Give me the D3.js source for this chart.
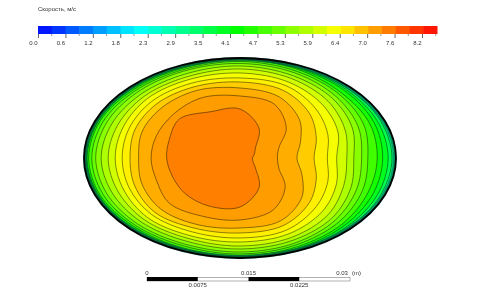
<!DOCTYPE html>
<head>
  <meta charset="utf-8">
  <script src="https://cdn.jsdelivr.net/npm/d3@7"></script>
  <style>
    html, body { margin: 0; background: #fff; }
    svg { display: block; }
    text { font-family: "Liberation Sans", Arial, sans-serif; font-size: 6px; fill: #333; }
    .axis path { display: none; }
    .axis line { stroke: #222; stroke-width: 0.7; }
  </style>
</head>
<body>
<script>

var title = "Скорость, м/с"
var tickLabels = ["0.0","0.6","1.2","1.8","2.3","2.9","3.5","4.1","4.7","5.3","5.9","6.4","7.0","7.6","8.2"]
var maxSpeed = 8.5
var barBands = 29

// section size in metres, read against the scale bar
var semiX = 0.02305
var semiY = 0.01478
var centreX = 0.01374

// angle of each contour point, degrees, going round the section
var angles = [0,22.5,45,67.5,90,112.5,135,157.5,180,202.5,225,247.5,270,292.5,315,337.5]

// speed inside each contour
var levels = [7.44,7.2,7.05,6.8,6.5,6.3,6.0,5.7,5.4,5.1,4.8,4.4,4.0,3.6]
var wallSpeed = 3.2

// each contour as a fraction of the wall distance at each angle
var c1 = [.08,.10,.14,.32,.49,.50,.55,.49,.47,.47,.50,.52,.49,.32,.14,.09]
var c2 = [.24,.27,.42,.58,.62,.65,.61,.58,.57,.58,.64,.63,.62,.56,.41,.27]
var c3 = [.365,.42,.54,.66,.70,.73,.71,.68,.65,.68,.72,.72,.70,.68,.56,.43]
var c4 = [.475,.53,.63,.73,.76,.77,.76,.73,.705,.73,.77,.76,.75,.73,.63,.53]
var c5 = [.56,.61,.69,.78,.80,.81,.80,.77,.755,.77,.80,.80,.80,.78,.69,.61]
var c6 = [.62,.68,.75,.82,.85,.85,.84,.81,.80,.81,.84,.84,.84,.82,.75,.67]
var c7 = [.685,.73,.80,.86,.89,.88,.87,.85,.845,.85,.87,.87,.88,.86,.80,.72]
var c8 = [.73,.78,.84,.89,.92,.91,.90,.89,.89,.89,.90,.90,.91,.89,.84,.77]
var c9 = [.78,.82,.87,.92,.945,.94,.93,.925,.925,.925,.93,.93,.94,.92,.87,.81]
var c10 = [.82,.86,.90,.94,.965,.955,.95,.95,.95,.95,.95,.95,.96,.94,.90,.85]
var c11 = [.88,.90,.92,.96,.98,.97,.965,.97,.97,.97,.965,.97,.975,.96,.93,.89]
var c12 = [.915,.93,.95,.97,.985,.98,.98,.98,.98,.98,.98,.98,.985,.975,.95,.925]
var c13 = [.95,.955,.965,.98,.99,.99,.987,.987,.987,.987,.988,.988,.99,.985,.97,.955]
var c14 = [.975,.975,.98,.99,.993,.993,.993,.993,.993,.993,.993,.993,.995,.99,.985,.975]
var contours = [c1,c2,c3,c4,c5,c6,c7,c8,c9,c10,c11,c12,c13,c14]

var scaleTop = ["0","0.015","0.03"]
var scaleTopValues = [0,0.015,0.03]
var scaleBottom = ["0.0075","0.0225"]
var scaleBottomValues = [0.0075,0.0225]
var scaleBlocks = [[0,0.0075],[0.015,0.0225]]

var width = 481
var height = 291
var svg = d3.select("body").append("svg")
            .attr("width", width)
            .attr("height", height)

// the reference is a soft, low resolution scan
svg.append("filter").attr("id", "soft")
   .append("feGaussianBlur").attr("stdDeviation", 0.35)
var root = svg.append("g").attr("filter", "url(#soft)")

root.append("rect").attr("width", width).attr("height", height).attr("fill", "#fff")
root.append("text").attr("x", 38).attr("y", 10.5).text(title)

// rainbow colour map, same as the colour bar
var color = d3.scaleLinear()
              .domain([0, 0.25, 0.5, 0.75, 1].map(function(d) { return d * maxSpeed }))
              .range(["#0000ff","#00ffff","#00ff00","#ffff00","#ff0000"])

// colour bar
var barX = d3.scaleLinear().domain([0, maxSpeed]).range([38, 437])
var bandW = maxSpeed / barBands
root.selectAll(".band")
   .data(d3.range(barBands))
   .enter().append("rect")
   .attr("class", "band")
   .attr("x", function(d) { return barX(d * bandW) })
   .attr("width", function(d) { return barX(bandW) - barX(0) + 0.5 })
   .attr("y", 26)
   .attr("height", 8)
   .attr("fill", function(d) { return color((d + 0.5) * bandW) })

var tickX = d3.scalePoint().domain(tickLabels).range([38, 422])
var barAxis = root.append("g")
   .attr("class", "axis")
   .attr("transform", "translate(0,34)")
   .call(d3.axisBottom(tickX).tickSize(4).tickPadding(3))
barAxis.selectAll("text").attr("dx", -5).style("font-size", "6px").style("font-family", null)

// minor ticks half way between the labelled ones
root.selectAll(".minor")
   .data(tickLabels)
   .enter().append("line")
   .attr("class", "minor")
   .attr("x1", function(d, i) { return 38 + (tickX.step()) * (i + 0.5) })
   .attr("x2", function(d, i) { return 38 + (tickX.step()) * (i + 0.5) })
   .attr("y1", 34).attr("y2", 36)
   .attr("stroke", "#555").attr("stroke-width", 0.6)

// section
var x = d3.scaleLinear().domain([0, 0.03]).range([147, 350])
var y = d3.scaleLinear().domain([0, 0.03]).range([258, 55])
var line = d3.line()
             .x(function(d) { return x(centreX + d.f * semiX * Math.cos(d.a * Math.PI / 180)) })
             .y(function(d) { return y(semiY + d.f * semiY * Math.sin(d.a * Math.PI / 180)) })
             .curve(d3.curveCatmullRomClosed.alpha(0.5))

var g = root.append("g")
var rxPx = x(semiX) - x(0)
var ryPx = y(0) - y(semiY)

g.append("ellipse")
 .attr("cx", x(centreX)).attr("cy", y(semiY))
 .attr("rx", rxPx).attr("ry", ryPx)
 .attr("fill", color(wallSpeed))

// draw from the wall inwards so inner bands lie on top
d3.range(contours.length - 1, -1, -1).forEach(function(i) {
  var pts = contours[i].map(function(f, j) { return {f: f, a: angles[j]} })
  g.append("path")
   .attr("d", line(pts))
   .attr("fill", color(levels[i]))
   .attr("stroke", "#000")
   .attr("stroke-opacity", 0.75)
   .attr("stroke-width", 0.6)
})

// dark teal shade where the contours pile up against the wall
g.append("ellipse")
 .attr("cx", x(centreX)).attr("cy", y(semiY))
 .attr("rx", rxPx - 1).attr("ry", ryPx - 1)
 .attr("fill", "none")
 .attr("stroke", "#005a50")
 .attr("stroke-opacity", 0.6)
 .attr("stroke-width", 4)

g.append("ellipse")
 .attr("cx", x(centreX)).attr("cy", y(semiY))
 .attr("rx", rxPx).attr("ry", ryPx)
 .attr("fill", "none")
 .attr("stroke", "#000")
 .attr("stroke-width", 1.8)

// scale bar
var sb = root.append("g")
sb.append("rect")
  .attr("x", x(0)).attr("y", 277.5)
  .attr("width", x(0.03) - x(0)).attr("height", 3.5)
  .attr("fill", "#fff").attr("stroke", "#666").attr("stroke-width", 0.5)
sb.selectAll(".block")
  .data(scaleBlocks)
  .enter().append("rect")
  .attr("class", "block")
  .attr("x", function(d) { return x(d[0]) })
  .attr("width", function(d) { return x(d[1]) - x(d[0]) })
  .attr("y", 277).attr("height", 4)
  .attr("fill", "#000")
sb.selectAll(".top")
  .data(scaleTop)
  .enter().append("text")
  .attr("class", "top")
  .attr("x", function(d, i) { return x(scaleTopValues[i]) })
  .attr("y", 275)
  .attr("text-anchor", "middle")
  .attr("dx", function(d, i) { return i == 2 ? -8 : 0 })
  .text(function(d) { return d })
sb.append("text").attr("x", x(0.03) + 2).attr("y", 275).text("(m)")
sb.selectAll(".bot")
  .data(scaleBottom)
  .enter().append("text")
  .attr("class", "bot")
  .attr("x", function(d, i) { return x(scaleBottomValues[i]) })
  .attr("y", 287)
  .attr("text-anchor", "middle")
  .text(function(d) { return d })

</script>
</body>
